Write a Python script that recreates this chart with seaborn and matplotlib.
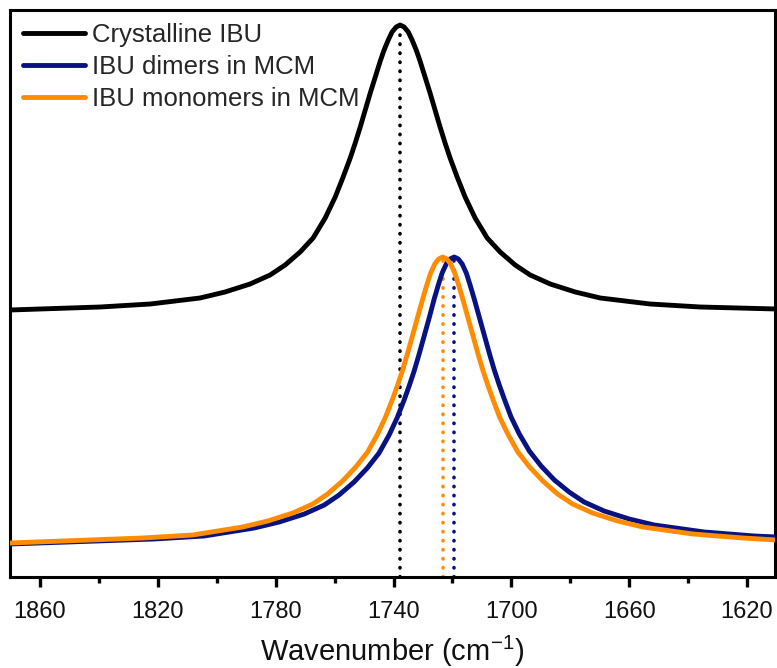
import matplotlib
matplotlib.use("Agg")
import matplotlib.pyplot as plt
import pandas as pd
import seaborn as sns
from matplotlib.ticker import MultipleLocator

# values (wavenumber in cm-1, intensity in arbitrary units)
crystalline_wn = [1870.2, 1839.6, 1822.6, 1805.7, 1797.2, 1788.7, 1781.9, 1776.8, 1771.7,
                  1767.3, 1763.2, 1759.8, 1757.1, 1754.7, 1753.0, 1751.3, 1749.6, 1747.9,
                  1746.2, 1744.5, 1743.2, 1741.8, 1740.5, 1739.1, 1737.8,
                  1736.4, 1735.0, 1733.7, 1732.3, 1731.0, 1729.3, 1727.6, 1725.9, 1724.2,
                  1722.5, 1720.8, 1718.4, 1715.7, 1712.3, 1708.2, 1703.8, 1698.7, 1693.6,
                  1686.8, 1678.3, 1669.8, 1652.9, 1635.9, 1610.0]
crystalline_int = [2.67, 2.70, 2.73, 2.79, 2.85, 2.93, 3.02, 3.12, 3.25,
                   3.39, 3.59, 3.80, 4.00, 4.19, 4.34, 4.50, 4.67, 4.84,
                   5.00, 5.16, 5.27, 5.37, 5.45, 5.50, 5.52,
                   5.50, 5.45, 5.37, 5.27, 5.16, 5.00, 4.84, 4.67, 4.50,
                   4.34, 4.19, 4.00, 3.80, 3.59, 3.39, 3.25, 3.12, 3.02,
                   2.93, 2.85, 2.79, 2.73, 2.70, 2.68]

dimer_wn = [1870.2, 1821.3, 1804.3, 1787.3, 1778.8, 1770.3, 1763.5, 1758.5, 1753.4,
            1748.9, 1744.9, 1741.5, 1738.8, 1736.4, 1734.7, 1733.0, 1731.3, 1729.6,
            1727.9, 1726.2, 1724.8, 1723.5, 1722.1, 1720.8, 1719.4,
            1718.0, 1716.7, 1715.3, 1714.0, 1712.6, 1710.9, 1709.2, 1707.5, 1705.8,
            1704.1, 1702.4, 1700.1, 1697.3, 1693.9, 1689.9, 1685.4, 1680.4, 1675.3,
            1668.5, 1660.0, 1651.5, 1634.5, 1617.5, 1610.0]
dimer_int = [0.33, 0.38, 0.41, 0.49, 0.55, 0.63, 0.72, 0.82, 0.95,
             1.09, 1.24, 1.42, 1.59, 1.77, 1.91, 2.06, 2.23, 2.41,
             2.59, 2.78, 2.92, 3.04, 3.13, 3.18, 3.20,
             3.18, 3.13, 3.04, 2.92, 2.78, 2.60, 2.42, 2.24, 2.07,
             1.92, 1.78, 1.60, 1.43, 1.26, 1.11, 0.97, 0.85, 0.75,
             0.66, 0.58, 0.52, 0.45, 0.41, 0.40]

monomer_wn = [1870.2, 1825.2, 1808.2, 1791.2, 1782.7, 1774.2, 1767.4, 1762.4, 1757.3,
              1752.8, 1748.8, 1745.4, 1742.7, 1740.3, 1738.6, 1736.9, 1735.2, 1733.5,
              1731.8, 1730.1, 1728.7, 1727.4, 1726.0, 1724.7, 1723.3,
              1721.9, 1720.6, 1719.2, 1717.9, 1716.5, 1714.8, 1713.1, 1711.4, 1709.7,
              1708.0, 1706.3, 1704.0, 1701.2, 1697.8, 1693.8, 1689.3, 1684.3, 1679.2,
              1672.4, 1663.9, 1655.4, 1638.4, 1621.4, 1610.0]
monomer_int = [0.34, 0.39, 0.42, 0.50, 0.56, 0.64, 0.73, 0.83, 0.96,
               1.10, 1.25, 1.43, 1.60, 1.78, 1.92, 2.07, 2.24, 2.42,
               2.60, 2.78, 2.92, 3.04, 3.13, 3.18, 3.20,
               3.18, 3.13, 3.04, 2.92, 2.78, 2.60, 2.42, 2.24, 2.07,
               1.92, 1.78, 1.60, 1.43, 1.25, 1.10, 0.96, 0.83, 0.73,
               0.64, 0.56, 0.50, 0.43, 0.39, 0.37]

peak_positions = [1737.8, 1719.4, 1723.3]

sns.set_theme(style="white")
plt.rcParams["font.family"] = ["Liberation Sans", "DejaVu Sans"]
plt.rcParams["mathtext.default"] = "regular"

black = "#000000"
navy = "#081280"
orange = "#ff8c00"

fig = plt.figure(figsize=(7.77, 6.68), dpi=100)
ax = fig.add_axes([10 / 777, 91 / 668, 765 / 777, 567 / 668])

crystalline = pd.DataFrame({"wn": crystalline_wn, "y": crystalline_int})
dimer = pd.DataFrame({"wn": dimer_wn, "y": dimer_int})
monomer = pd.DataFrame({"wn": monomer_wn, "y": monomer_int})

# dotted drop lines from each peak maximum to the axis
dot_style = dict(linestyle=(0, (0.1, 2.4)), linewidth=2.6, dash_capstyle="round", zorder=1)
for pos, peak, col in zip(peak_positions,
                          [max(crystalline_int), max(dimer_int), max(monomer_int)],
                          [black, navy, orange]):
    ax.plot([pos, pos], [0, peak], color=col, **dot_style)

line_kw = dict(sort=False, linewidth=3.5, ax=ax)
sns.lineplot(data=crystalline, x="wn", y="y", color=black, label="Crystalline IBU",
             zorder=3, **line_kw)
sns.lineplot(data=dimer, x="wn", y="y", color=navy, label="IBU dimers in MCM",
             zorder=3, **line_kw)
sns.lineplot(data=monomer, x="wn", y="y", color=orange, label="IBU monomers in MCM",
             zorder=4, **line_kw)

ax.set_xlim(1870.2, 1610.5)
ax.set_ylim(0, 5.67)
ax.set_xticks(range(1620, 1861, 40))
ax.xaxis.set_minor_locator(MultipleLocator(20))
ax.set_yticks([])
ax.tick_params(axis="x", which="major", direction="out", length=7, width=2.4,
               labelsize=17, pad=10, bottom=True, color=black, labelcolor="#111111")
ax.tick_params(axis="x", which="minor", direction="out", length=4.5, width=2.4,
               bottom=True, color=black)
for spine in ax.spines.values():
    spine.set_linewidth(2.2)
    spine.set_color(black)

ax.set_xlabel("Wavenumber (cm$^{-1}$)", fontsize=21, labelpad=8, color="#111111")
ax.set_ylabel("")

leg = ax.legend(loc="upper left", frameon=False, fontsize=18.5, handlelength=2.4,
                handletextpad=0.3, labelspacing=0.32, borderaxespad=0.3,
                borderpad=0.2)
for line in leg.get_lines():
    line.set_linewidth(3.5)

fig.savefig("out.png", dpi=100)
